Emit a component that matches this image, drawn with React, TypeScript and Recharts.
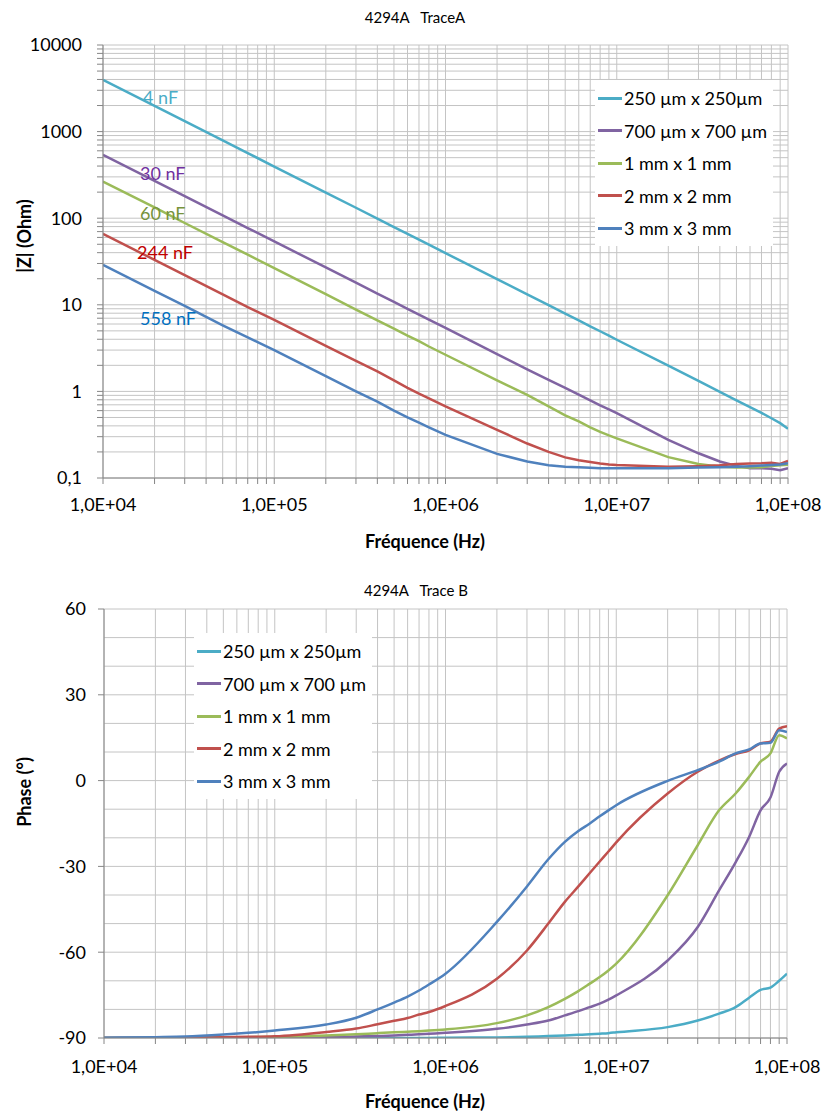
import React from 'react';
import { LineChart, Line, XAxis, YAxis, CartesianGrid, Legend, ReferenceLine } from 'recharts';

// frequencies (Hz) shared by every trace
const freq = [1e4, 2e4, 3e4, 5e4, 7e4, 1e5, 2e5, 3e5, 4e5, 5e5, 6e5, 7e5, 8e5, 1e6, 2e6, 3e6, 4e6, 5e6, 6e6, 7e6, 8e6, 9e6, 1e7, 2e7, 3e7, 4e7, 5e7, 6e7, 7e7, 8e7, 9e7, 1e8];

const seriesNames = ['250 µm x 250µm', '700 µm x 700 µm', '1 mm x 1 mm', '2 mm x 2 mm', '3 mm x 3 mm'];
const seriesKeys = ['a', 'b', 'c', 'd', 'e'];
const seriesColors = ['#4BACC6', '#8064A2', '#9BBB59', '#C0504D', '#4F81BD'];

// |Z| (Ohm) - Trace A
const z250 = [3950, 1980, 1320, 790, 565, 395, 198, 132, 99, 79, 66, 56.5, 49.5, 39.5, 19.8, 13.2, 9.9, 7.9, 6.6, 5.65, 4.95, 4.4, 3.95, 1.98, 1.32, 0.99, 0.79, 0.66, 0.565, 0.49, 0.43, 0.37];
const z700 = [540, 270, 180, 108, 77, 54, 27, 18, 13.5, 10.8, 9.0, 7.7, 6.75, 5.4, 2.7, 1.8, 1.36, 1.1, 0.92, 0.79, 0.69, 0.62, 0.56, 0.275, 0.193, 0.155, 0.138, 0.13, 0.13, 0.128, 0.123, 0.13];
const z1mm = [265, 133, 88, 53, 38, 26.5, 13.3, 8.8, 6.6, 5.3, 4.4, 3.8, 3.3, 2.65, 1.34, 0.91, 0.67, 0.53, 0.45, 0.385, 0.34, 0.31, 0.287, 0.174, 0.145, 0.135, 0.132, 0.132, 0.133, 0.138, 0.14, 0.142];
const z2mm = [66, 33, 22, 13.2, 9.4, 6.7, 3.35, 2.25, 1.7, 1.34, 1.1, 0.94, 0.83, 0.67, 0.36, 0.25, 0.2, 0.173, 0.16, 0.153, 0.147, 0.143, 0.141, 0.135, 0.137, 0.14, 0.145, 0.147, 0.148, 0.15, 0.145, 0.158];
const z3mm = [29, 14.5, 9.7, 5.8, 4.2, 3.0, 1.5, 1.0, 0.76, 0.6, 0.5, 0.435, 0.385, 0.314, 0.19, 0.155, 0.14, 0.135, 0.133, 0.131, 0.13, 0.13, 0.13, 0.13, 0.132, 0.133, 0.135, 0.137, 0.139, 0.141, 0.143, 0.148];

// Phase (deg) - Trace B
const p250 = [-90, -90, -90, -90, -90, -90, -90, -90, -90, -90, -90, -90, -90, -89.9, -89.8, -89.6, -89.3, -89.1, -88.9, -88.7, -88.5, -88.3, -88, -86.2, -83.9, -81.5, -79.2, -75.9, -73.2, -72.4, -70, -67.5];
const p700 = [-90, -90, -90, -90, -89.9, -89.8, -89.7, -89.5, -89.3, -89.1, -88.9, -88.7, -88.5, -88.2, -86.8, -85.3, -83.9, -82.1, -80.6, -79.2, -78, -76.6, -75.1, -62.9, -51.2, -38.4, -28.6, -19.7, -10.4, -5.9, 3.1, 6];
const p1mm = [-90, -90, -89.9, -89.8, -89.7, -89.6, -89.1, -88.7, -88.3, -88, -87.8, -87.6, -87.4, -87, -84.8, -82.1, -79.2, -76.3, -73.6, -71, -68.7, -66.4, -64, -40.1, -22.6, -10.4, -4.5, 1.3, 6.6, 9.5, 15.9, 14.7];
const p2mm = [-90, -90, -89.9, -89.7, -89.6, -89.4, -87.9, -86.7, -85.2, -84, -83, -81.8, -80.9, -78.8, -69.3, -59.4, -50, -42.4, -37, -32.3, -28.3, -24.8, -21.6, -4.5, 3.1, 7, 9.3, 10.6, 13, 13.6, 18.2, 19];
const p3mm = [-89.9, -89.7, -89.5, -88.8, -88.2, -87.4, -85.3, -82.9, -80, -77.6, -75.5, -73.4, -71.3, -67.5, -49.4, -37, -27.5, -21.4, -17.6, -15, -12.5, -10.4, -8.6, -0.1, 3.65, 6.6, 9.5, 10.9, 13, 13.2, 17.6, 17];

const annotations = [
  { text: '4 nF', color: '#4BACC6', left: 143, top: 97 },
  { text: '30 nF', color: '#7030A0', left: 140, top: 173 },
  { text: '60 nF', color: '#77933C', left: 140, top: 213 },
  { text: '244 nF', color: '#C00000', left: 137, top: 252 },
  { text: '558 nF', color: '#0070C0', left: 140, top: 318 },
];

const zSeries = [z250, z700, z1mm, z2mm, z3mm];
const pSeries = [p250, p700, p1mm, p2mm, p3mm];

const zData = freq.map((f, i) => {
  const row: any = { f };
  seriesKeys.forEach((k, j) => (row[k] = zSeries[j][i]));
  return row;
});
const pData = freq.map((f, i) => {
  const row: any = { f };
  seriesKeys.forEach((k, j) => (row[k] = pSeries[j][i]));
  return row;
});

// log axis ticks: 1..9 in each decade
const logTicks = (from: number, to: number) => {
  const t: number[] = [];
  for (let e = from; e < to; e++) for (let m = 1; m < 10; m++) t.push(+(m * Math.pow(10, e)).toPrecision(3));
  t.push(Math.pow(10, to));
  return t;
};
const xTicks = logTicks(4, 8);
const zTicks = logTicks(-1, 4);
const pTicks = [-90, -60, -30, 0, 30, 60];
const pMinor = [-80, -70, -50, -40, -20, -10, 10, 20, 40, 50];

const isDecade = (v: number) => Math.abs(Math.log10(v) - Math.round(Math.log10(v))) < 1e-6;
const fmtFreq = (v: number) => (isDecade(v) ? `1,0E+${String(Math.round(Math.log10(v))).padStart(2, '0')}` : '');
const fmtZ = (v: number) => (isDecade(v) ? String(v).replace('.', ',') : '');

const FONT = 'Lato, "Open Sans", sans-serif';
const GRID = '#c4c4c4';
const AXIS = '#868686';
const tickStyle = { fill: '#000', fontSize: 18, fontFamily: FONT };

const LegendBox = () => (
  <div style={{ background: '#fff', padding: '2px 6px 1px 3px', fontFamily: FONT, fontSize: 18, color: '#000' }}>
    {seriesNames.map((n, i) => (
      <div key={n} style={{ display: 'flex', alignItems: 'center', height: 32.5, whiteSpace: 'nowrap' }}>
        <span style={{ display: 'inline-block', width: 24, borderTop: `3px solid ${seriesColors[i]}`, marginRight: 2 }} />
        <span>{n}</span>
      </div>
    ))}
  </div>
);

const Abs = ({ left, top, children, style }: any) => (
  <div style={{ position: 'absolute', left, top, lineHeight: '20px', fontFamily: FONT, whiteSpace: 'nowrap', ...style }}>{children}</div>
);

const lines = (curve: 'linear' | 'monotone') =>
  seriesKeys.map((k, i) => (
    <Line key={k} dataKey={k} name={seriesNames[i]} stroke={seriesColors[i]} strokeWidth={2.5} dot={false} type={curve} isAnimationActive={false} />
  ));

export default function App() {
  return (
    <div style={{ position: 'absolute', left: 0, top: 0, width: 824, height: 1113, background: '#fff', overflow: 'hidden' }}>
      <div style={{ position: 'absolute', left: 0, top: 0 }}>
        <LineChart width={824} height={560} data={zData} margin={{ top: 45, right: 36, bottom: 22, left: 43 }}>
          <CartesianGrid stroke={GRID} />
          <XAxis dataKey="f" type="number" scale="log" domain={[1e4, 1e8]} ticks={xTicks} interval={0} tickFormatter={fmtFreq}
            height={60} stroke={AXIS} tick={tickStyle} tickSize={6} tickMargin={14} allowDataOverflow />
          <YAxis type="number" scale="log" domain={[0.1, 10000]} ticks={zTicks} interval={0} tickFormatter={fmtZ}
            width={60} stroke={AXIS} tick={tickStyle} tickSize={6} tickMargin={15} allowDataOverflow />
          <Legend layout="vertical" align="center" verticalAlign="middle" content={<LegendBox />}
            wrapperStyle={{ left: 595, top: 80, width: 'auto' }} />
          {lines('linear')}
        </LineChart>
      </div>
      <div style={{ position: 'absolute', left: 0, top: 560 }}>
        <LineChart width={824} height={553} data={pData} margin={{ top: 49, right: 37, bottom: 20, left: 44 }}>
          <CartesianGrid stroke={GRID} />
          {pMinor.map((v) => (
            <ReferenceLine key={v} y={v} stroke={GRID} />
          ))}
          <XAxis dataKey="f" type="number" scale="log" domain={[1e4, 1e8]} ticks={xTicks} interval={0} tickFormatter={fmtFreq}
            height={55} stroke={AXIS} tick={tickStyle} tickSize={6} tickMargin={16} allowDataOverflow />
          <YAxis type="number" domain={[-90, 60]} ticks={pTicks} interval={0}
            width={60} stroke={AXIS} tick={tickStyle} tickSize={6} tickMargin={12} allowDataOverflow />
          <Legend layout="vertical" align="center" verticalAlign="middle" content={<LegendBox />}
            wrapperStyle={{ left: 194, top: 73, width: 'auto' }} />
          {lines('monotone')}
        </LineChart>
      </div>

      <Abs left={315} top={7} style={{ width: 200, textAlign: 'center', fontSize: 15 }}>4294A&nbsp;&nbsp;&nbsp;TraceA</Abs>
      <Abs left={316} top={580} style={{ width: 200, textAlign: 'center', fontSize: 15 }}>4294A&nbsp;&nbsp;&nbsp;Trace B</Abs>
      <Abs left={325} top={531} style={{ width: 200, textAlign: 'center', fontSize: 18, fontWeight: 'bold' }}>Fréquence (Hz)</Abs>
      <Abs left={325} top={1091} style={{ width: 200, textAlign: 'center', fontSize: 18, fontWeight: 'bold' }}>Fréquence (Hz)</Abs>
      <Abs left={-76} top={226} style={{ width: 200, textAlign: 'center', fontSize: 18, fontWeight: 'bold', transform: 'rotate(-90deg)' }}>|Z| (Ohm)</Abs>
      <Abs left={-76} top={782} style={{ width: 200, textAlign: 'center', fontSize: 18, fontWeight: 'bold', transform: 'rotate(-90deg)' }}>Phase (°)</Abs>
      {annotations.map((a) => (
        <Abs key={a.text} left={a.left} top={a.top - 10} style={{ fontSize: 18, color: a.color }}>{a.text}</Abs>
      ))}
    </div>
  );
}
